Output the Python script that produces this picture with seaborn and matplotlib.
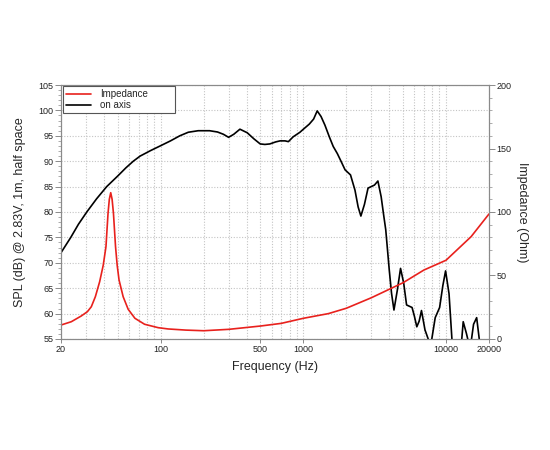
import matplotlib
matplotlib.use("Agg")
import matplotlib.pyplot as plt
import matplotlib.ticker as mticker
import seaborn as sns
import pandas as pd

# ---- data ----
spl_freq = [20, 23.4, 26.5, 30.3, 35.5, 41.8, 50, 57, 64.2, 71.6, 85, 99, 117, 136, 156, 183,
            220, 250, 275, 299, 325, 359, 404, 450, 498, 537, 582, 640, 686, 744, 785, 848,
            946, 1000, 1100, 1180, 1250, 1330, 1416, 1520, 1619, 1730, 1850, 1960, 2140, 2300,
            2420, 2530, 2680, 2840, 2990, 3150, 3330, 3510, 3650, 3780, 4000, 4150, 4315, 4550,
            4800, 5050, 5290, 5780, 6000, 6240, 6480, 6730, 7120, 7500, 7700, 7950, 8400, 9020,
            9500, 9930, 10500, 11000, 12000, 12900, 13200, 13900, 14200, 14700, 15100, 15600,
            16400, 17100, 18000]
spl_db = [72.0, 75.0, 77.6, 80.0, 82.6, 85.0, 87.1, 88.7, 90.0, 91.0, 92.1, 93.0, 94.0, 95.0,
          95.7, 96.0, 96.0, 95.75, 95.3, 94.7, 95.3, 96.3, 95.6, 94.4, 93.4, 93.3, 93.4, 93.8,
          94.0, 94.0, 93.85, 94.8, 95.7, 96.3, 97.3, 98.3, 99.9, 98.8, 97.1, 94.8, 92.9, 91.5,
          89.8, 88.3, 87.3, 84.3, 81.0, 79.2, 81.5, 84.7, 85.0, 85.3, 86.1, 83.0, 79.5, 76.5,
          68.6, 64.0, 60.7, 64.5, 68.9, 66.0, 61.7, 61.2, 59.5, 57.4, 58.5, 60.6, 56.8, 55.0,
          53.5, 55.0, 59.2, 61.2, 65.5, 68.4, 63.9, 55.0, 50.0, 55.0, 58.4, 56.1, 55.0, 53.0,
          55.0, 57.9, 59.2, 55.0, 50.0]

imp_freq = [20, 23.6, 27.7, 30.6, 32.6, 34.8, 37.3, 39.5, 41.3, 42.7, 43.6, 44.6, 45.6, 46.6,
            48.2, 49.5, 51.0, 54.5, 59.1, 65.9, 77, 96, 112.6, 150, 200, 300, 500, 700, 1000,
            1500, 2000, 3000, 5000, 7000, 10000, 15000, 20000]
imp_ohm = [11.0, 13.6, 18.1, 21.5, 25.4, 33.3, 45.1, 58.0, 72.7, 99.0, 110.0, 115.2, 110.0,
           99.0, 72.7, 58.0, 46.5, 33.3, 23.4, 16.3, 11.6, 8.9, 7.9, 7.0, 6.5, 7.6, 10.2, 12.3,
           16.3, 20.0, 24.2, 32.5, 44.3, 54.3, 62.0, 80.6, 98.4]

x_major = [20, 100, 500, 1000, 10000, 20000]
x_labels = ["20", "100", "500", "1000", "10000", "20000"]

spl_df = pd.DataFrame({"freq": spl_freq, "spl": spl_db})
imp_df = pd.DataFrame({"freq": imp_freq, "imp": imp_ohm})

sns.set_theme(style="white")
plt.rcParams["font.family"] = ["Liberation Sans", "DejaVu Sans"]

fig = plt.figure(figsize=(5.5, 4.5), dpi=100)
ax = fig.add_axes([0.111, 0.2467, 0.778, 0.5644])
ax2 = ax.twinx()

sns.lineplot(data=spl_df, x="freq", y="spl", ax=ax, color="black", lw=1.2,
             label="on axis", legend=False, sort=False)
sns.lineplot(data=imp_df, x="freq", y="imp", ax=ax2, color="#e8211d", lw=1.2,
             label="Impedance", legend=False, sort=False)
for a in (ax, ax2):
    for ln in a.get_lines():
        ln.set_solid_joinstyle("round")
        ln.set_solid_capstyle("round")

ax.set_xscale("log")
ax.set_xlim(20, 20000)
ax.set_ylim(55, 105)
ax2.set_ylim(0, 200)

ax.xaxis.set_major_locator(mticker.FixedLocator(x_major))
ax.xaxis.set_major_formatter(mticker.FixedFormatter(x_labels))
minor = [m * d for d in (10, 100, 1000) for m in range(1, 10)
         if 20 <= m * d <= 20000 and m * d not in x_major]
ax.xaxis.set_minor_locator(mticker.FixedLocator(minor))
ax.xaxis.set_minor_formatter(mticker.NullFormatter())

ax.yaxis.set_major_locator(mticker.MultipleLocator(5))
ax.yaxis.set_minor_locator(mticker.MultipleLocator(1))
ax2.yaxis.set_major_locator(mticker.MultipleLocator(50))
ax2.yaxis.set_minor_locator(mticker.MultipleLocator(10))

grid_kw = dict(color="#c4c4c4", linestyle=(0, (1, 1.5)), linewidth=0.8)
ax.grid(True, which="major", axis="both", **grid_kw)
ax.grid(True, which="minor", axis="x", **grid_kw)
ax2.grid(False)

for a in (ax, ax2):
    for s in a.spines.values():
        s.set_color("#8a8a8a")
        s.set_linewidth(0.8)
    a.tick_params(which="major", direction="out", length=4, width=0.7, color="#8a8a8a",
                  labelsize=6.5, pad=1.5, labelcolor="#222222")
    a.tick_params(which="minor", direction="out", length=2, width=0.5, color="#8a8a8a")
ax.tick_params(axis="x", which="minor", length=0)
ax.tick_params(axis="x", which="major", length=3, bottom=True)
ax2.tick_params(axis="y", which="both", left=False, right=True)
ax.tick_params(axis="y", which="both", left=True, right=False)

ax.set_xlabel("Frequency (Hz)", fontsize=9, labelpad=5)
ax.set_ylabel("SPL (dB) @ 2.83V, 1m, half space", fontsize=9, labelpad=9)
ax2.set_ylabel("Impedance (Ohm)", fontsize=9, rotation=270, labelpad=12)

handles = ax2.get_lines()[:1] + ax.get_lines()[:1]
leg = ax2.legend(handles, ["Impedance", "on axis"], loc="upper left", fontsize=7,
                 bbox_to_anchor=(0.005, 0.5, 0.262, 0.495), mode="expand",
                 frameon=True, fancybox=False, borderpad=0.3, handlelength=2.6,
                 handletextpad=0.9, labelspacing=0.1, borderaxespad=0.0)
leg.get_frame().set_edgecolor("#555555")
leg.get_frame().set_linewidth(0.8)
leg.get_frame().set_alpha(1)

fig.savefig("out.png", dpi=100)
